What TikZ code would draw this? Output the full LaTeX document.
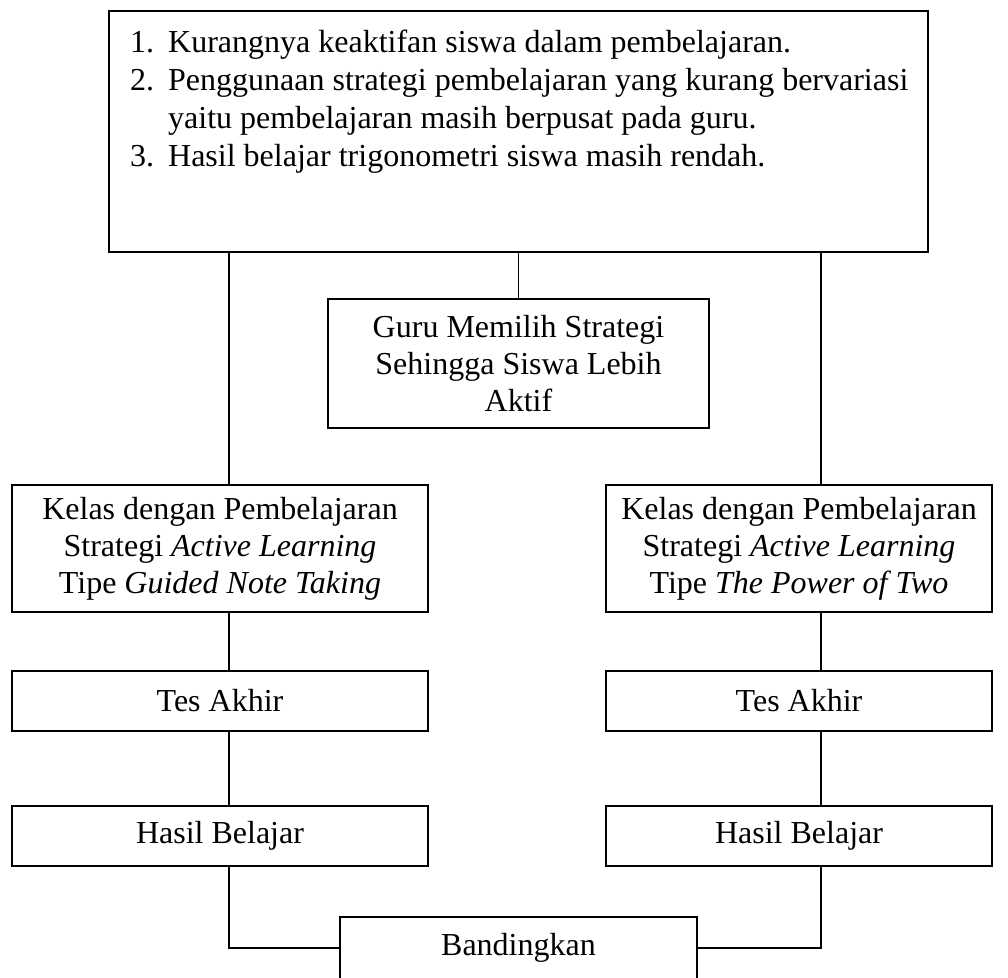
\documentclass[tikz,border=0pt]{standalone}
\usepackage{fontspec}
\setmainfont{Liberation Serif}
\begin{document}
\begin{tikzpicture}[x=1pt,y=-1pt,
  box/.style={draw=black, line width=1.6pt, rectangle, inner sep=0pt, align=center,
    font=\fontsize{32}{37}\selectfont},
  conn/.style={draw=black, line width=1.6pt}]
\useasboundingbox (0,0) rectangle (1008,977);
\fill[white] (0,0) rectangle (1008,977);
\begin{scope}
\clip (0,0) rectangle (1008,977);
\node[box, minimum width=819pt, minimum height=241pt] (top) at (518.5,131.5) {};
\node[anchor=base west, inner sep=0pt, font=\fontsize{32}{38}\selectfont] (list) at (130,52)
 {\begin{tabular}[t]{@{}p{38pt}@{}l@{}}
 1. & Kurangnya keaktifan siswa dalam pembelajaran.\\
 2. & Penggunaan strategi pembelajaran yang kurang bervariasi\\
    & yaitu pembelajaran masih berpusat pada guru.\\
 3. & Hasil belajar trigonometri siswa masih rendah.
 \end{tabular}};
\node[box, minimum width=381pt, minimum height=129pt] (mid) at (518.5,363.5)
 {Guru Memilih Strategi\\Sehingga Siswa Lebih\\Aktif};
\node[box, minimum width=416pt, minimum height=127pt] (L1) at (220,548.5)
 {Kelas dengan Pembelajaran\\Strategi \textit{Active Learning}\\Tipe \textit{Guided Note Taking}};
\node[box, minimum width=386pt, minimum height=127pt] (R1) at (799,548.5)
 {Kelas dengan Pembelajaran\\Strategi \textit{Active Learning}\\Tipe \textit{The Power of Two}};
\node[box, minimum width=416pt, minimum height=60pt] (L2) at (220,701) {Tes Akhir};
\node[box, minimum width=386pt, minimum height=60pt] (R2) at (799,701) {Tes Akhir};
\node[box, minimum width=416pt, minimum height=60pt] (L3) at (220,836) {Hasil Belajar};
\node[box, minimum width=386pt, minimum height=60pt] (R3) at (799,836) {Hasil Belajar};
\node[box, minimum width=357pt, minimum height=62pt] (B) at (518.5,948) {Bandingkan};
\coordinate (lx) at (229,0);
\coordinate (rx) at (821,0);
\draw[conn] (top.south) -- (mid.north);
\draw[conn] (lx |- top.south) -- (lx |- L1.north);
\draw[conn] (rx |- top.south) -- (rx |- R1.north);
\draw[conn] (lx |- L1.south) -- (lx |- L2.north);
\draw[conn] (rx |- R1.south) -- (rx |- R2.north);
\draw[conn] (lx |- L2.south) -- (lx |- L3.north);
\draw[conn] (rx |- R2.south) -- (rx |- R3.north);
\draw[conn] (lx |- L3.south) |- (B.west);
\draw[conn] (rx |- R3.south) |- (B.east);
\end{scope}
\end{tikzpicture}
\end{document}
